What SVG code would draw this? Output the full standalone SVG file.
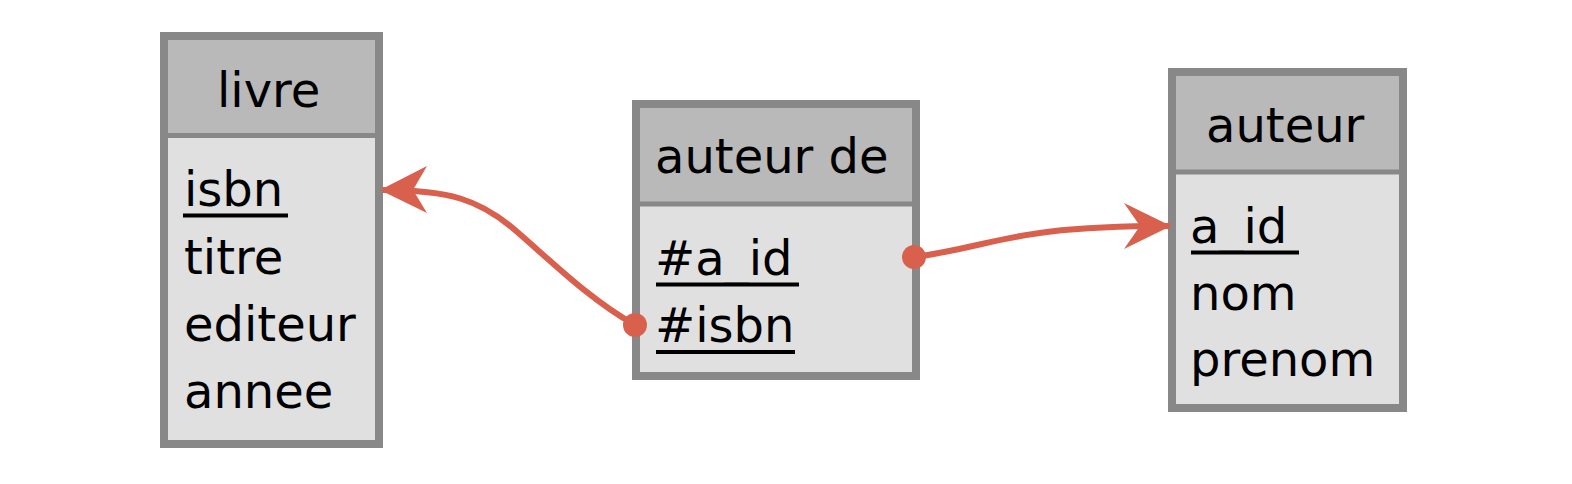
<svg xmlns="http://www.w3.org/2000/svg" width="1572" height="484" viewBox="0 0 1572 484">
<style>
.hdr{fill:#b9b9b9}
.body{fill:#e0e0e0}
.frame{fill:none;stroke:#888888;stroke-width:8}
.div{stroke:#888888;stroke-width:5}
.t{font-family:"DejaVu Sans",Verdana,sans-serif;font-size:48px;fill:#000}
.ul{stroke:#000;stroke-width:4}
.edge{fill:none;stroke:#d9604c;stroke-width:6}
.head{fill:#d9604c}
</style>
<rect width="1572" height="484" fill="#ffffff"/>
<g id="livre">
<rect class="hdr" x="164" y="36" width="215" height="100"/>
<rect class="body" x="164" y="136" width="215" height="308"/>
<line class="div" x1="164" y1="135.5" x2="379" y2="135.5"/>
<rect class="frame" x="164" y="36" width="215" height="408"/>
<text class="t" x="217" y="107">livre</text>
<line class="ul" x1="183" y1="215.5" x2="288" y2="215.5"/>
<text class="t" x="184" y="206">isbn</text>
<text class="t" x="184" y="274">titre</text>
<text class="t" x="184" y="341">editeur</text>
<text class="t" x="184" y="408">annee</text>
</g>
<g id="auteur_de">
<rect class="hdr" x="636" y="104" width="280" height="100"/>
<rect class="body" x="636" y="204" width="280" height="172"/>
<line class="div" x1="636" y1="204" x2="916" y2="204"/>
<rect class="frame" x="636" y="104" width="280" height="272"/>
<text class="t" x="655" y="173">auteur de</text>
<line class="ul" x1="656" y1="284.5" x2="799" y2="284.5"/>
<text class="t" x="655" y="275">#a_id</text>
<line class="ul" x1="656" y1="352" x2="795" y2="352"/>
<text class="t" x="655" y="342">#isbn</text>
</g>
<g id="auteur">
<rect class="hdr" x="1172" y="72" width="231" height="100"/>
<rect class="body" x="1172" y="172" width="231" height="236"/>
<line class="div" x1="1172" y1="172" x2="1403" y2="172"/>
<rect class="frame" x="1172" y="72" width="231" height="336"/>
<text class="t" x="1206" y="142">auteur</text>
<line class="ul" x1="1191" y1="252.5" x2="1299" y2="252.5"/>
<text class="t" x="1190" y="243">a_id</text>
<text class="t" x="1190" y="310">nom</text>
<text class="t" x="1190" y="376">prenom</text>
</g>
<g id="connectors">
<path class="edge" d="M383,190 C450,190 480,200 515,230 S590,300 635,325"/>
<polygon class="head" points="380,190 427,166 413,190 427,213"/>
<circle class="head" cx="635" cy="325" r="12"/>
<path class="edge" d="M915,257 C1000,245 1010,226 1170,226"/>
<polygon class="head" points="1171,226 1124,203 1140,226 1124,249"/>
<circle class="head" cx="914" cy="257" r="12"/>
</g>
</svg>
